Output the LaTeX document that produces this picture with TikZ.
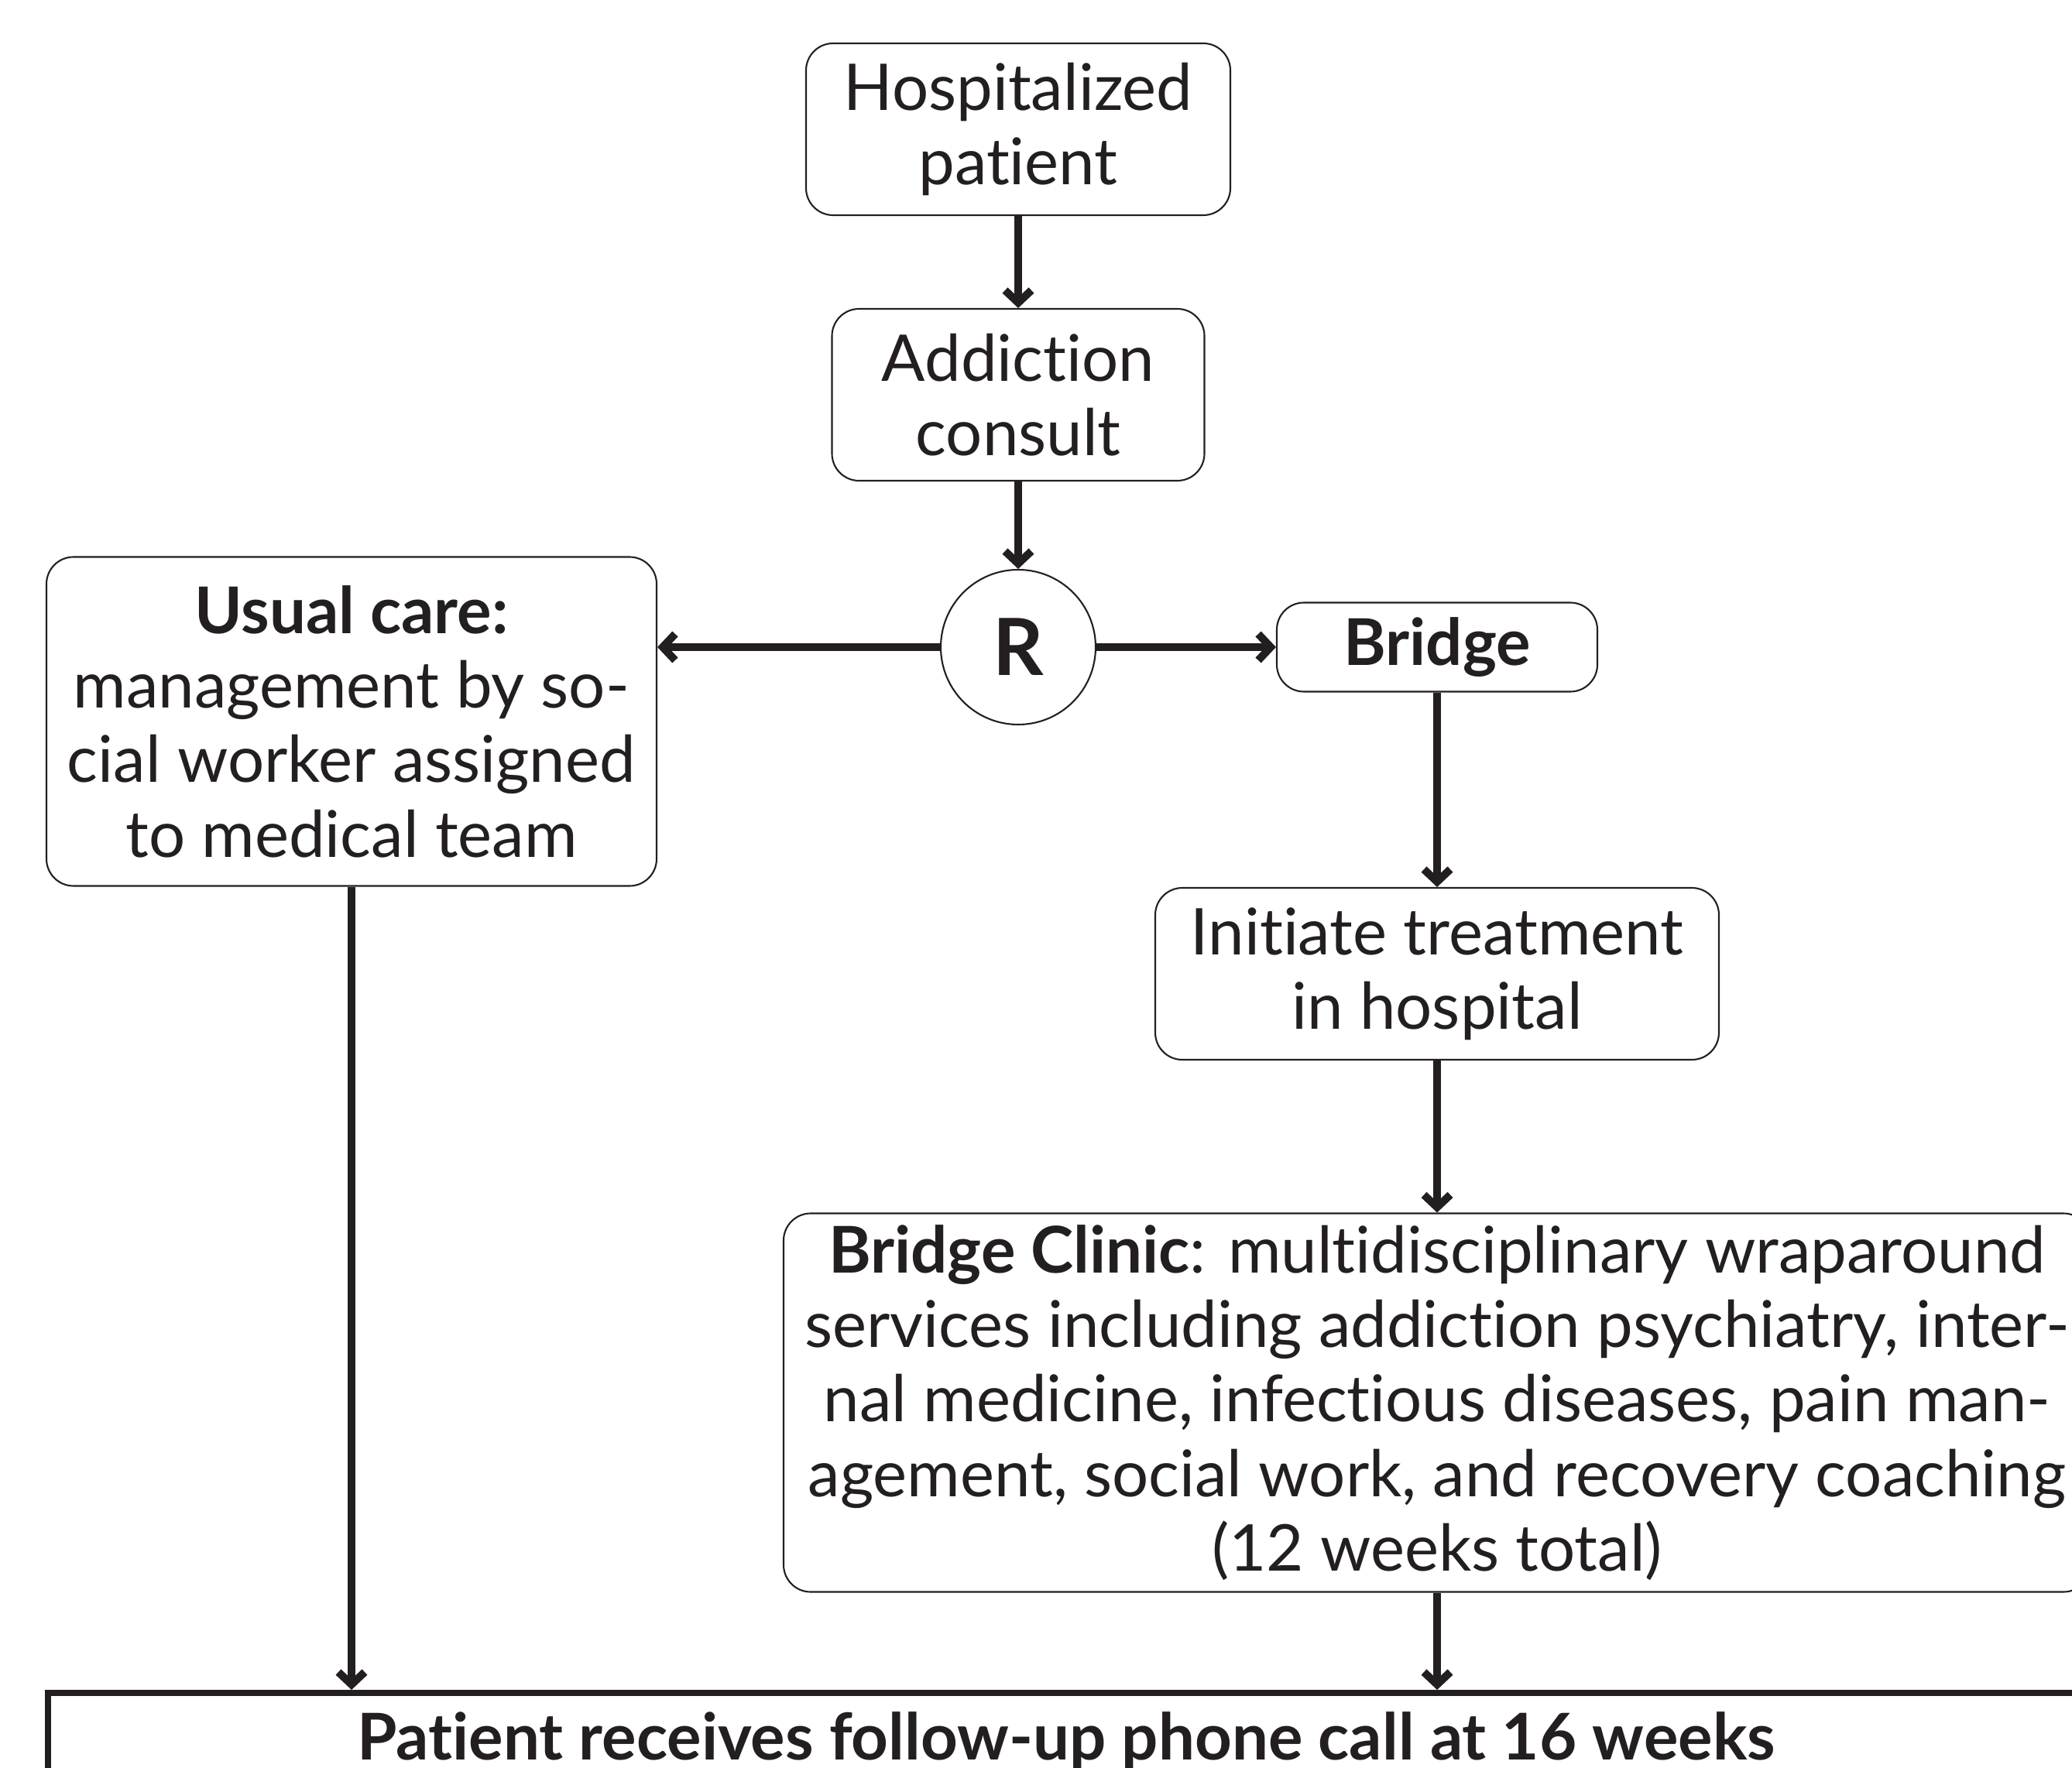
\documentclass[tikz,border=0pt]{standalone}
\usepackage{fontspec}
\setmainfont{Lato}[Ligatures=NoCommon]
\usepackage{xcolor}
\usepackage{tikz}
\usetikzlibrary{positioning,arrows.meta}
\definecolor{fcink}{HTML}{231F20}

\begin{document}
\begin{tikzpicture}[
  fb/.style={draw=fcink,line width=0.6pt,rounded corners=3.5mm,fill=white,inner sep=2pt,
  align=center,font=\fontsize{23.7}{27.4}\selectfont,text=fcink},
  fr/.style={draw=fcink,line width=0.6pt,circle,minimum size=20mm,inner sep=0pt,
  font=\fontsize{29}{30}\selectfont\bfseries,text=fcink},
  fend/.style={draw=fcink,line width=2.3pt,inner sep=0pt,minimum width=263mm,minimum height=12.6mm,
  font=\fontsize{23.7}{27.4}\selectfont\bfseries,text=fcink},
  fa/.style={-{Straight Barb[length=1.6mm,width=3.4mm]},fcink,line width=2.85pt}]
\useasboundingbox (0,0) rectangle (26.76,-22.84);
\node[fb,minimum width=54.8mm,minimum height=22.2mm] (hosp) at (13.15,-1.67) {Hospitalized\\ patient};
\node[fb,minimum width=48.1mm,minimum height=22.2mm] (consult) at (13.15,-5.10) {Addiction\\ consult};
\node[fr] (rnd) at (13.15,-8.36) {R};
\node[fb,minimum width=41.4mm,minimum height=11.5mm] (bridge) at (18.56,-8.36) {\bfseries Bridge};
\node[fb,minimum width=78.8mm,minimum height=42.5mm] (usual) at (4.54,-9.32) {\textbf{Usual care:}\\ management by so-\\ cial worker assigned\\ to medical team};
\node[fb,minimum width=72.8mm,minimum height=22.2mm] (init) at (18.56,-12.58) {Initiate treatment\\ in hospital};
\node[fb,minimum width=168.8mm,minimum height=48.9mm] (clinic) at (18.56,-18.12) {\textbf{Bridge Clinic}: multidisciplinary wraparound\\ services including addiction psychiatry, inter-\\ nal medicine, infectious diseases, pain man-\\ agement, social work, and recovery coaching\\ (12 weeks total)};
\node[fend] (follow) at (13.77,-22.5) {Patient receives follow-up phone call at 16 weeks};
\draw[fa] (hosp) -- (consult);\draw[fa] (consult) -- (rnd);\draw[fa] (rnd.west) -- (rnd.west -| usual.east);\draw[fa] (rnd) -- (bridge);
\draw[fa] (bridge) -- (init);\draw[fa] (init) -- (clinic);\draw[fa] (usual) -- (usual |- follow.north);\draw[fa] (clinic) -- (clinic |- follow.north);
\end{tikzpicture}
\end{document}
